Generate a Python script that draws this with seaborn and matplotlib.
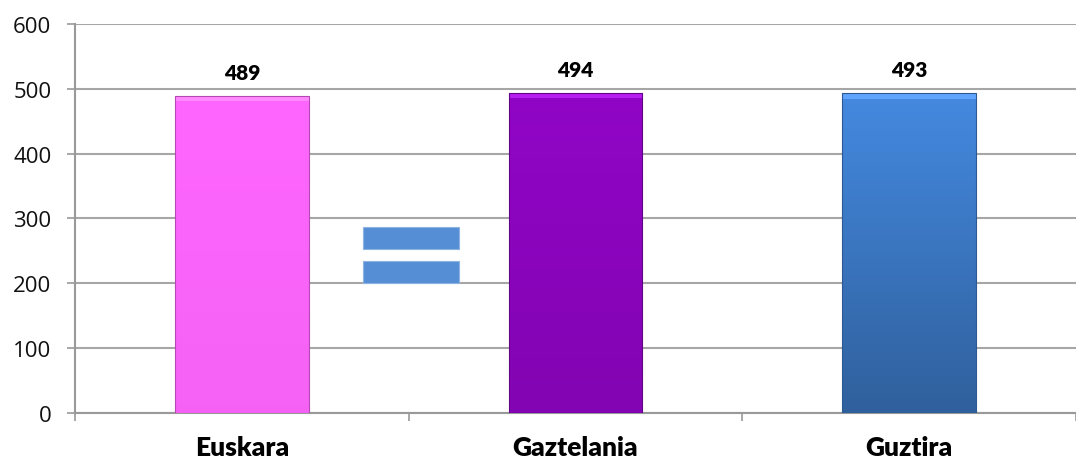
import numpy as np
import pandas as pd
import matplotlib
matplotlib.use("Agg")
import matplotlib.pyplot as plt
import seaborn as sns
from matplotlib.patches import Rectangle

categories = ["Euskara", "Gaztelania", "Guztira"]
values = [489, 494, 493]
value_labels = ["489", "494", "493"]
yticks = [0, 100, 200, 300, 400, 500, 600]
colors = ["#FF66FF", "#8E05C2", "#3F7FCF"]
shading = [(1.0, 0.96), (1.02, 0.92), (1.08, 0.76)]

sns.set_theme(style="white")
plt.rcParams['font.family'] = ['Open Sans', 'DejaVu Sans']

fig = plt.figure(figsize=(10.76, 4.6), dpi=100)
ax = fig.add_axes([0.0697, 0.1, 0.9303, 0.8457])

df = pd.DataFrame({"cat": categories, "val": values})
sns.barplot(data=df, x="cat", y="val", hue="cat", palette=colors, width=0.4,
            legend=False, ax=ax, saturation=1, zorder=3)

# bevel/gradient effect on bars
for patch, (g0, g1) in zip(ax.patches, shading):
    patch.set_edgecolor("none")
    x0, y0 = patch.get_x(), patch.get_y()
    w, h = patch.get_width(), patch.get_height()
    base = np.array(matplotlib.colors.to_rgb(patch.get_facecolor()))
    grad = np.linspace(g0, g1, 64)[:, None, None]
    img = np.clip(base[None, None, :] * grad, 0, 1)
    im = ax.imshow(img, extent=[x0, x0 + w, y0, y0 + h], aspect="auto",
                   origin="upper", zorder=3.5, interpolation="bilinear")
    im.set_clip_path(patch)
    ax.add_patch(Rectangle((x0, y0 + h - 8), w, 8,
                           facecolor=np.clip(base * 1.1 + 0.1, 0, 1),
                           edgecolor="none", zorder=4))
    ax.add_patch(Rectangle((x0, y0), w, h, facecolor="none",
                           edgecolor=np.clip(base * 0.7, 0, 1), linewidth=0.8,
                           zorder=4.5))

ax.set_xlim(-0.5, 2.5)
ax.set_ylim(0, 600)
ax.set_yticks(yticks)
ax.set_yticklabels([str(t) for t in yticks], fontsize=16, color="#111111")
ax.tick_params(axis="y", length=6, width=1.2, color="#999999", pad=11, left=True)

# category boundary ticks and centered labels
ax.set_xticks([-0.5, 0.5, 1.5, 2.5])
ax.set_xticklabels([])
ax.set_xticks([0, 1, 2], minor=True)
ax.set_xticklabels(categories, minor=True, fontsize=19, fontweight="heavy",
                   family=["Lato", "DejaVu Sans"], color="#000000")
ax.tick_params(axis="x", which="major", length=6, width=1.2, color="#999999", bottom=True)
ax.tick_params(axis="x", which="minor", length=0, pad=16)
ax.set_xlabel("")
ax.set_ylabel("")

ax.grid(axis="y", color="#A6A6A6", linewidth=1.5, zorder=0)
ax.set_axisbelow(True)
for s in ["top", "right"]:
    ax.spines[s].set_visible(False)
for s in ["left", "bottom"]:
    ax.spines[s].set_color("#999999")
    ax.spines[s].set_linewidth(1.5)

for i, (v, lab) in enumerate(zip(values, value_labels)):
    ax.annotate(lab, (i, v), xytext=(0, 10), textcoords="offset points",
                ha="center", va="bottom", fontsize=15, fontweight="heavy",
                family=["Lato", "DejaVu Sans"], color="#000000")

# equal sign decoration
eq_x0, eq_x1 = 0.362, 0.650
for y0, y1 in [(253, 287), (201, 235)]:
    ax.add_patch(Rectangle((eq_x0, y0), eq_x1 - eq_x0, y1 - y0,
                           facecolor="#558ED5", edgecolor="#8DB3E2",
                           linewidth=0.8, zorder=3))

fig.savefig("out.png", dpi=100)
